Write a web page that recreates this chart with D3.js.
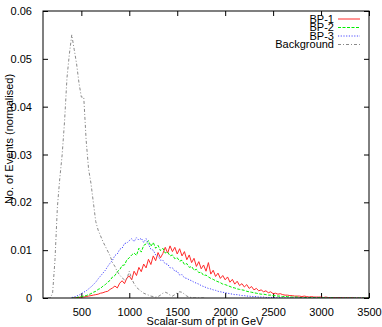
<!DOCTYPE html>
<html>
<head>
<meta charset="utf-8">
<script src="https://cdn.jsdelivr.net/npm/d3@7"></script>
<style>
  body { margin: 0; background: #fff; }
  svg { display: block; font-family: "Liberation Sans", Arial, sans-serif; }
</style>
</head>
<body>
<svg id="chart" width="382" height="327"></svg>
<script>
// ==============================
// DATA (normalised histograms, 25 GeV bins)
// ==============================
const binWidth = 25;
const signalStart = 400;
const bgStart = 150;

const bp1Values = [
  0, 0, 0.0001, 0.0001, 0.0002, 0.0002, 0.0003, 0.0004,
  0.0005, 0.0006, 0.0007, 0.0008, 0.0010, 0.0011, 0.0013, 0.0014,
  0.0018, 0.0021, 0.0025, 0.0021, 0.0031, 0.0036, 0.0030, 0.0042,
  0.0046, 0.0038, 0.0056, 0.0047, 0.0064, 0.0055, 0.0071, 0.0063,
  0.0081, 0.0070, 0.0088, 0.0078, 0.0095, 0.0084, 0.0093, 0.0106,
  0.0094, 0.0109, 0.0097, 0.0106, 0.0092, 0.0103, 0.0088, 0.0097,
  0.0080, 0.0090, 0.0074, 0.0083, 0.0066, 0.0076, 0.0061, 0.0069,
  0.0056, 0.0074, 0.0050, 0.0058, 0.0045, 0.0052, 0.0041, 0.0047,
  0.0038, 0.0044, 0.0033, 0.0039, 0.0029, 0.0035, 0.0026, 0.0030,
  0.0023, 0.0028, 0.0020, 0.0024, 0.0017, 0.0020, 0.0015, 0.0017,
  0.0013, 0.0015, 0.0011, 0.0013, 0.0009, 0.0010, 0.0008, 0.0009,
  0.0007, 0.0006, 0.0006, 0.0005, 0.0005, 0.0004, 0.0004, 0.0004,
  0.0003, 0.0004, 0.0003, 0.0002, 0.0003, 0.0002, 0.0002, 0.0002,
  0.0002, 0.0001, 0.0002, 0.0001, 0.0001, 0.0001, 0.0001, 0.0001,
  0.0001, 0.0001, 0, 0.0001, 0, 0.0001, 0, 0,
  0, 0, 0, 0, 0
];

const bp2Values = [
  0, 0, 0.0001, 0.0002, 0.0003, 0.0004, 0.0005, 0.0007,
  0.0009, 0.0012, 0.0014, 0.0018, 0.0020, 0.0025, 0.0028, 0.0033,
  0.0037, 0.0044, 0.0047, 0.0055, 0.0059, 0.0068, 0.0069, 0.0080,
  0.0084, 0.0090, 0.0094, 0.0089, 0.0104, 0.0096, 0.0110, 0.0113,
  0.0120, 0.0108, 0.0116, 0.0104, 0.0110, 0.0099, 0.0104, 0.0094,
  0.0096, 0.0088, 0.0090, 0.0082, 0.0084, 0.0077, 0.0079, 0.0070,
  0.0072, 0.0064, 0.0066, 0.0058, 0.0060, 0.0053, 0.0054, 0.0047,
  0.0048, 0.0044, 0.0041, 0.0039, 0.0036, 0.0034, 0.0032, 0.0029,
  0.0028, 0.0026, 0.0024, 0.0022, 0.0021, 0.0019, 0.0018, 0.0017,
  0.0016, 0.0014, 0.0013, 0.0012, 0.0011, 0.0010, 0.0009, 0.0008,
  0.0008, 0.0007, 0.0006, 0.0006, 0.0005, 0.0005, 0.0004, 0.0004,
  0.0003, 0.0003, 0.0003, 0.0002, 0.0002, 0.0002, 0.0002, 0.0001,
  0.0001, 0.0001, 0.0001, 0.0001, 0.0001, 0.0001, 0, 0.0001,
  0, 0.0001, 0, 0, 0.0001, 0, 0, 0,
  0, 0, 0, 0, 0, 0, 0, 0,
  0, 0, 0, 0, 0
];

const bp3Values = [
  0.0001, 0.0002, 0.0004, 0.0006, 0.0009, 0.0012, 0.0015, 0.0019,
  0.0023, 0.0028, 0.0033, 0.0040, 0.0046, 0.0052, 0.0058, 0.0066,
  0.0073, 0.0079, 0.0089, 0.0092, 0.0102, 0.0104, 0.0114, 0.0115,
  0.0120, 0.0124, 0.0118, 0.0126, 0.0121, 0.0125, 0.0116, 0.0124,
  0.0112, 0.0102, 0.0100, 0.0090, 0.0088, 0.0079, 0.0079, 0.0071,
  0.0071, 0.0063, 0.0063, 0.0056, 0.0056, 0.0048, 0.0049, 0.0042,
  0.0041, 0.0038, 0.0036, 0.0033, 0.0031, 0.0029, 0.0026, 0.0024,
  0.0022, 0.0020, 0.0019, 0.0017, 0.0016, 0.0014, 0.0013, 0.0012,
  0.0011, 0.0010, 0.0009, 0.0008, 0.0007, 0.0007, 0.0006, 0.0005,
  0.0005, 0.0004, 0.0004, 0.0003, 0.0003, 0.0003, 0.0002, 0.0002,
  0.0002, 0.0001, 0.0001, 0.0001, 0.0001, 0.0001, 0, 0.0001,
  0, 0, 0, 0, 0, 0, 0, 0,
  0, 0, 0, 0, 0, 0, 0, 0,
  0, 0, 0, 0, 0, 0, 0, 0,
  0, 0, 0, 0, 0, 0, 0, 0,
  0, 0, 0, 0, 0
];

const bgValues = [
  0, 0, 0.0010, 0.0080, 0.0190, 0.0250, 0.0300, 0.0370,
  0.0460, 0.0510, 0.0550, 0.0520, 0.0490, 0.0450, 0.0420, 0.0420,
  0.0330, 0.0270, 0.0240, 0.0200, 0.0160, 0.0142, 0.0130, 0.0118,
  0.0108, 0.0098, 0.0088, 0.0074, 0.0066, 0.0055, 0.0048, 0.0042,
  0.0038, 0.0040, 0.0056, 0.0040, 0.0030, 0.0022, 0.0018, 0.0014,
  0.0010, 0.0008, 0.0006, 0.0004, 0.0003, 0.0002, 0.0003, 0.0006,
  0.0010, 0.0012, 0.0010, 0.0006, 0.0004, 0.0007, 0.0011, 0.0013,
  0.0012, 0.0008, 0.0004, 0.0002, 0.0001, 0, 0, 0,
  0, 0, 0
];

const xTicks = [500, 1000, 1500, 2000, 2500, 3000, 3500];
const yTicks = [0, 0.01, 0.02, 0.03, 0.04, 0.05, 0.06];

const seriesNames = ["BP-1", "BP-2", "BP-3", "Background"];
const seriesColors = ["#ff2a2a", "#00ee00", "#4848ff", "#8a8a8a"];
const seriesDashes = [null, "3,1.5", "1.2,1.5", "3,2,1,2"];

// ==============================
// LAYOUT
// ==============================
const width = 382, height = 327;
const margin = { top: 11, right: 13, bottom: 29, left: 43 };
const plotW = width - margin.left - margin.right;
const plotH = height - margin.top - margin.bottom;

const svg = d3.select("#chart");
const g = svg.append("g").attr("transform", `translate(${margin.left},${margin.top})`);

const x = d3.scaleLinear().domain([100, 3500]).range([0, plotW]);
const y = d3.scaleLinear().domain([0, 0.06]).range([plotH, 0]);

// ==============================
// AXES (gnuplot style: inward ticks, mirrored)
// ==============================
const tickLen = 5;
const yFmt = d => d === 0 ? "0" : d3.format(".2f")(d);

const xAxis = g.append("g").attr("transform", `translate(0,${plotH})`)
  .call(d3.axisBottom(x).tickValues(xTicks).tickSize(-tickLen).tickPadding(10).tickFormat(d3.format("d")));
const xAxisTop = g.append("g")
  .call(d3.axisTop(x).tickValues(xTicks).tickSize(-tickLen).tickFormat(""));
const yAxis = g.append("g")
  .call(d3.axisLeft(y).tickValues(yTicks).tickSize(-tickLen).tickPadding(11).tickFormat(yFmt));
const yAxisRight = g.append("g").attr("transform", `translate(${plotW},0)`)
  .call(d3.axisRight(y).tickValues(yTicks).tickSize(-tickLen).tickFormat(""));

[xAxis, xAxisTop, yAxis, yAxisRight].forEach(a => {
  a.select(".domain").remove();
  a.selectAll(".tick line").attr("stroke", "#000");
  a.selectAll("text").attr("font-size", 11).attr("fill", "#000")
    .attr("font-family", "'Liberation Sans', Arial, sans-serif");
});

// ==============================
// CURVES
// ==============================
const line = d3.line().x(d => x(d[0])).y(d => y(d[1]));

const toPoints = (vals, start) => vals.map((v, i) => [start + i * binWidth, v]);
const seriesData = [
  toPoints(bp1Values, signalStart),
  toPoints(bp2Values, signalStart),
  toPoints(bp3Values, signalStart),
  toPoints(bgValues, bgStart)
];

svg.append("clipPath").attr("id", "plotclip")
  .append("rect").attr("width", plotW).attr("height", plotH);

seriesData.forEach((pts, i) => {
  g.append("path")
    .datum(pts)
    .attr("clip-path", "url(#plotclip)")
    .attr("fill", "none")
    .attr("stroke", seriesColors[i])
    .attr("stroke-width", 1)
    .attr("stroke-dasharray", seriesDashes[i])
    .attr("d", line);
});

// frame
g.append("rect")
  .attr("width", plotW).attr("height", plotH)
  .attr("fill", "none").attr("stroke", "#000").attr("stroke-width", 1);

// ==============================
// LEGEND
// ==============================
const legend = g.append("g");
seriesNames.forEach((name, i) => {
  const ly = 8 + i * 8.5;
  legend.append("text")
    .attr("x", 334 - margin.left).attr("y", ly + 3.5)
    .attr("text-anchor", "end").attr("font-size", 11).attr("fill", "#000")
    .text(name);
  legend.append("line")
    .attr("x1", 338 - margin.left).attr("x2", 360 - margin.left)
    .attr("y1", ly).attr("y2", ly)
    .attr("stroke", seriesColors[i]).attr("stroke-width", 1)
    .attr("stroke-dasharray", seriesDashes[i]);
});

// ==============================
// AXIS LABELS
// ==============================
svg.append("text")
  .attr("x", 205).attr("y", 325)
  .attr("text-anchor", "middle").attr("font-size", 11)
  .text("Scalar-sum of pt in GeV");

svg.append("text")
  .attr("transform", "translate(13,139) rotate(-90)")
  .attr("text-anchor", "middle").attr("font-size", 11)
  .text("No. of Events (normalised)");
</script>
</body>
</html>
